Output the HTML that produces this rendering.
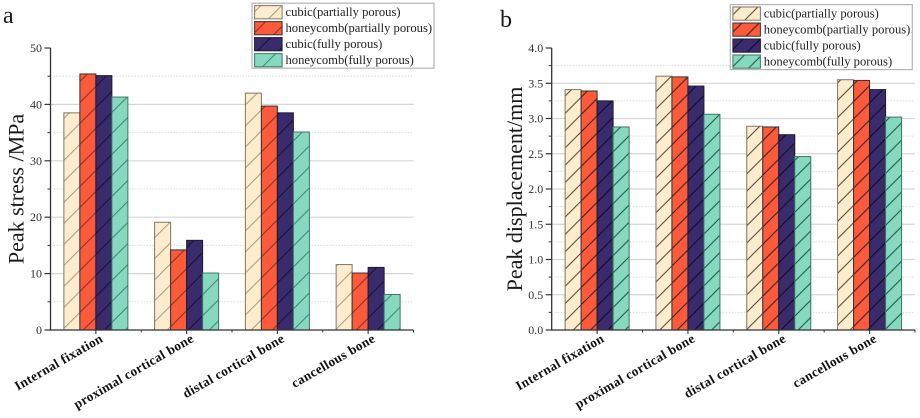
<!DOCTYPE html>
<html>
<head>
<meta charset="utf-8">
<title>Peak stress and displacement charts</title>
<style>
html,body{margin:0;padding:0;background:#fff;}
svg{display:block;filter:blur(0.3px);}
text{font-family:"Liberation Serif",serif;}
</style>
</head>
<body>
<svg id="chart" xmlns="http://www.w3.org/2000/svg" width="920" height="418" viewBox="0 0 920 418">
  <defs id="defs"></defs>
</svg>
<script>
const categories = ["Internal fixation", "proximal cortical bone", "distal cortical bone", "cancellous bone"];
const seriesNames = ["cubic(partially porous)", "honeycomb(partially porous)", "cubic(fully porous)", "honeycomb(fully porous)"];
const stressCubicPartial = [38.5, 19.1, 42.0, 11.6];
const stressHoneycombPartial = [45.4, 14.2, 39.7, 10.1];
const stressCubicFull = [45.1, 15.9, 38.5, 11.1];
const stressHoneycombFull = [41.3, 10.1, 35.1, 6.3];
const dispCubicPartial = [3.41, 3.60, 2.89, 3.55];
const dispHoneycombPartial = [3.39, 3.59, 2.88, 3.54];
const dispCubicFull = [3.25, 3.46, 2.77, 3.41];
const dispHoneycombFull = [2.88, 3.06, 2.46, 3.02];
const stressTicks = ["0", "10", "20", "30", "40", "50"];
const dispTicks = ["0.0", "0.5", "1.0", "1.5", "2.0", "2.5", "3.0", "3.5", "4.0"];

const NS = "http://www.w3.org/2000/svg";
const svg = document.getElementById("chart");
const defs = document.getElementById("defs");
const fills = ["#fdeccd", "#fb5a3b", "#3a2b6c", "#86d8bf"];
const edges = ["#7f7767", "#3a3030", "#1f1a30", "#3d7767"];
const softHatches = ["#a08f75", "#7c2c1b", "#120c2c", "#2f7a66"];
const darkHatches = ["#4f4638", "#3a1c14", "#0c0920", "#1d5244"];

function make(tag, attrs, parent, txt) {
  const el = document.createElementNS(NS, tag);
  for (const k in attrs) el.setAttribute(k, attrs[k]);
  if (txt !== undefined) el.textContent = txt;
  parent.appendChild(el);
  return el;
}

function addPattern(id, period, phase, colour, width) {
  const p = make("pattern", {id: id, patternUnits: "userSpaceOnUse", width: period, height: period, patternTransform: "translate(" + phase + " 0)"}, defs);
  make("path", {d: "M0 " + period + "L" + period + " 0M-2 2L2 -2M" + (period - 2) + " " + (period + 2) + "L" + (period + 2) + " " + (period - 2), stroke: colour, "stroke-width": width, fill: "none"}, p);
}

function drawPanel(cfg) {
  const g = make("g", {}, svg);
  
  

  const yScale = v => cfg.y0 - (v / cfg.yMax) * (cfg.y0 - cfg.y1);
  const band = (cfg.x1 - cfg.x0) / categories.length;
  const xCenter = i => cfg.x0 + band * (i + 0.5);

  fills.forEach((f, s) => addPattern(cfg.name + "-hatch-" + s, cfg.hatch, cfg.phase, cfg.hatchColours[s], cfg.hatchWidth));

  /* grid */
  const nMajor = cfg.ticks.length - 1;
  for (let i = 0; i < nMajor; i++) {
    const val = cfg.yMax * (i + 0.5) / nMajor;
    const minor = make("line", {x1: cfg.x0 + 3, x2: cfg.x1 - 1, y1: yScale(val), y2: yScale(val), stroke: "#dcdcdc", "stroke-width": 1, "stroke-dasharray": "1.5 1.5"}, g);
    
    
    const mt = make("line", {x1: cfg.x0 - 3, x2: cfg.x0, y1: yScale(val), y2: yScale(val), stroke: "#333", "stroke-width": 1}, g);
    
    
  }
  cfg.ticks.forEach((t, i) => {
    const val = cfg.yMax * i / nMajor;
    const yy = yScale(val);
    if (i > 0 && i < nMajor) {
      const gl = make("line", {x1: cfg.x0, x2: cfg.x1, y1: yy, y2: yy, stroke: "#d6d6d6", "stroke-width": 1.2}, g);
      
      
    }
    const tk = make("line", {x1: cfg.x0 - 6, x2: cfg.x0, y1: yy, y2: yy, stroke: "#333", "stroke-width": 1.2}, g);
    
    
    const lb = make("text", {x: cfg.x0 - 8.5, y: yy + 4, "text-anchor": "end", "font-size": 12, fill: "#333"}, g, t);
    
    
  });

  /* bars */
  const bw = 16;
  cfg.series.forEach((vals, s) => {
    vals.forEach((v, c) => {
      const left = xCenter(c) - 2 * bw + s * bw;
      const attrs = {x: left, y: yScale(v), width: bw, height: cfg.y0 - yScale(v), "stroke-width": 1};
      const base = make("rect", Object.assign({fill: fills[s], stroke: "none"}, attrs), g);
      
      
      const bar = make("rect", Object.assign({fill: "url(#" + cfg.name + "-hatch-" + s + ")", stroke: edges[s]}, attrs), g);
      
      
    });
  });

  /* axes */
  const ya = make("line", {x1: cfg.x0, x2: cfg.x0, y1: cfg.y1, y2: cfg.y0 + 0.6, stroke: "#333", "stroke-width": 1.3}, g);
  
  
  const xa = make("line", {x1: cfg.x0 - 0.6, x2: cfg.x1, y1: cfg.y0, y2: cfg.y0, stroke: "#333", "stroke-width": 1.3}, g);
  
  

  categories.forEach((c, i) => {
    const tk = make("line", {x1: xCenter(i), x2: xCenter(i), y1: cfg.y0, y2: cfg.y0 + 4, stroke: "#333", "stroke-width": 1.1}, g);
    
    
    const mt = make("line", {x1: xCenter(i) + band / 2, x2: xCenter(i) + band / 2, y1: cfg.y0, y2: cfg.y0 + 2.5, stroke: "#333", "stroke-width": 1}, g);
    
    
    const lx = xCenter(i) + 8, ly = cfg.y0 + 11;
    const lb = make("text", {x: lx, y: ly, "text-anchor": "end", "font-size": 13.3, "font-weight": "bold", fill: "#111", "letter-spacing": 0.35, transform: "rotate(-30 " + lx + " " + ly + ")"}, g, c);
    
    
  });

  /* titles */
  const yt = make("text", {x: cfg.titleX, y: cfg.titleY, "text-anchor": "middle", "font-size": 22, fill: "#1a1a1a", transform: "rotate(-90 " + cfg.titleX + " " + cfg.titleY + ")"}, g, cfg.title);
  
  
  const pl = make("text", {x: cfg.letterX, y: cfg.letterY, "font-size": 24, fill: "#1a1a1a"}, g, cfg.letter);
  
  

  /* legend */
  const lg = make("g", {}, g);
  
  
  make("rect", {x: cfg.legX, y: cfg.legY, width: 182, height: 65, fill: "#fff", stroke: "#b5b5b5", "stroke-width": 1.2}, lg);
  seriesNames.forEach((n, s) => {
    const ry = cfg.legY + 2.4 + s * 16;
    const b = make("rect", {x: cfg.legX + 2.6, y: ry, width: 27.5, height: 13.2, fill: fills[s], stroke: "none"}, lg);
    
    
    const sw = make("rect", {x: cfg.legX + 2.6, y: ry, width: 27.5, height: 13.2, fill: "url(#" + cfg.name + "-hatch-" + s + ")", stroke: edges[s], "stroke-width": 1}, lg);
    
    
    const t = make("text", {x: cfg.legX + 33.5, y: ry + 10.5, "font-size": 12.6, fill: "#222"}, lg, n);
    
    
  });
}

drawPanel({
  name: "stress", x0: 50.5, x1: 413.5, y0: 330, y1: 48, yMax: 50, ticks: stressTicks,
  hatch: 21, phase: 14.3, hatchColours: softHatches, hatchWidth: 0.9,
  series: [stressCubicPartial, stressHoneycombPartial, stressCubicFull, stressHoneycombFull],
  title: "Peak stress /MPa", titleX: 23.5, titleY: 189, letter: "a", letterX: 3, letterY: 23,
  legX: 252, legY: 3.2
});
drawPanel({
  name: "displacement", x0: 551.7, x1: 915, y0: 330, y1: 48, yMax: 4, ticks: dispTicks,
  hatch: 17.3, phase: 3.7, hatchColours: darkHatches, hatchWidth: 1,
  series: [dispCubicPartial, dispHoneycombPartial, dispCubicFull, dispHoneycombFull],
  title: "Peak displacement/mm", titleX: 522, titleY: 189, letter: "b", letterX: 500, letterY: 27,
  legX: 730.3, legY: 4.6
});
</script>
</body>
</html>
